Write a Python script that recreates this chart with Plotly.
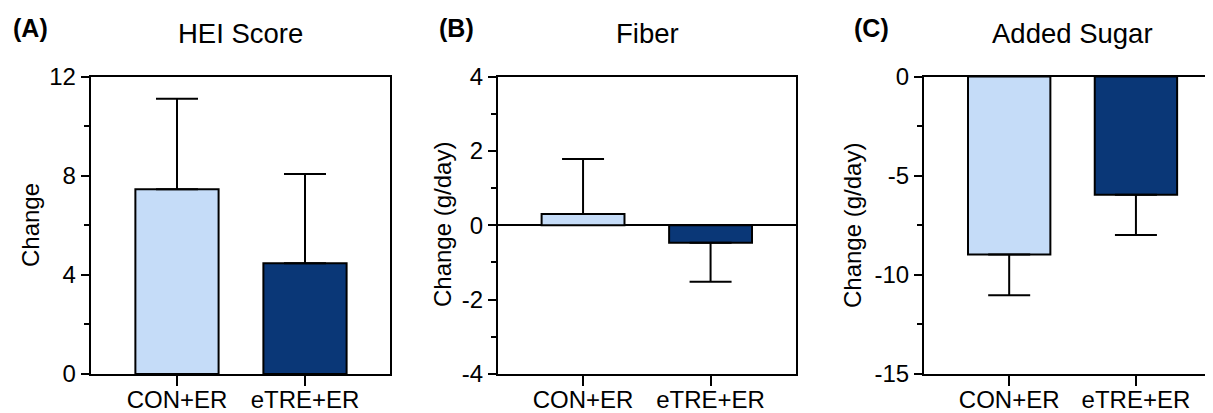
import plotly.graph_objects as go

# page has an 8px body margin; the figure sits at (8, 8) in the window
OFF = 8
W, H = 1213 - OFF, 413 - OFF


def px(x):
    return (x - OFF) / W


def py(y):
    return 1 - (y - OFF) / H


categories = ["CON+ER", "eTRE+ER"]
bar_colors = ["#C5DCF8", "#0A3777"]

# Panel A: HEI Score
hei_values = [7.45, 4.47]
hei_err_plus = [3.65, 3.6]
hei_err_minus = [0, 0]
hei_tickvals = [0, 4, 8, 12]
hei_ticktext = ["0", "4", "8", "12"]

# Panel B: Fiber
fiber_values = [0.30, -0.47]
fiber_err_plus = [1.48, 0]
fiber_err_minus = [0, 1.05]
fiber_tickvals = [-4, -2, 0, 2, 4]
fiber_ticktext = ["-4", "-2", "0", "2", "4"]

# Panel C: Added Sugar
sugar_values = [-8.98, -5.96]
sugar_err_plus = [0, 0]
sugar_err_minus = [2.05, 2.03]
sugar_tickvals = [-15, -10, -5, 0]
sugar_ticktext = ["-15", "-10", "-5", "0"]

panel_letters = ["(A)", "(B)", "(C)"]
panel_titles = ["HEI Score", "Fiber", "Added Sugar"]
y_titles = ["Change", "Change (g/day)", "Change (g/day)"]

FONT = "Arial, Liberation Sans, sans-serif"

fig = go.Figure()

panels = [
    (hei_values, hei_err_plus, hei_err_minus, hei_tickvals, hei_ticktext, [0, 12], 2),
    (fiber_values, fiber_err_plus, fiber_err_minus, fiber_tickvals, fiber_ticktext, [-4, 4], 1),
    (sugar_values, sugar_err_plus, sugar_err_minus, sugar_tickvals, sugar_ticktext, [-15, 0], 2.5),
]

x_domains = [[px(90.7), px(390)], [px(498), px(796)], [px(924), 1.0]]
x_ranges = [[-0.674, 1.664], [-0.667, 1.67], [-0.672, 1.608]]
y_domain = [py(374), py(76.5)]
mirrors_y = [True, True, False]
zerolines = [False, True, False]

for i, (vals, ep, em, tv, tt, yr, minor_dt) in enumerate(panels):
    n = "" if i == 0 else str(i + 1)
    fig.add_trace(go.Bar(
        x=list(range(len(categories))), y=vals,
        marker=dict(color=bar_colors, line=dict(color="black", width=2)),
        width=0.65,
        error_y=dict(type="data", symmetric=False, array=ep, arrayminus=em,
                     color="black", thickness=2, width=21),
        xaxis="x" + n, yaxis="y" + n, showlegend=False,
    ))
    fig.layout["xaxis" + n] = dict(
        domain=x_domains[i], range=x_ranges[i], anchor="y" + n, automargin=False,
        tickvals=list(range(len(categories))), ticktext=categories,
        ticks="outside", ticklen=10, tickwidth=2, tickcolor="black",
        ticklabelstandoff=-7,
        showline=True, linecolor="black", linewidth=2, mirror=True,
        showgrid=False, zeroline=False,
        tickfont=dict(family=FONT, size=24, color="black"),
    )
    fig.layout["yaxis" + n] = dict(
        domain=y_domain, range=yr, anchor="x" + n, automargin=False,
        tickvals=tv, ticktext=tt,
        ticks="outside", ticklen=8, tickwidth=2, tickcolor="black",
        minor=dict(ticks="outside", ticklen=5, tickwidth=2, tickcolor="black", dtick=minor_dt, showgrid=False),
        showline=True, linecolor="black", linewidth=2, mirror=mirrors_y[i],
        showgrid=False, zeroline=zerolines[i], zerolinecolor="black", zerolinewidth=2,
        tickfont=dict(family=FONT, size=24, color="black"),
    )

letter_x = [11, 437, 852]
title_x = [240, 647, 1072]
ytitle_x = [31, 443, 853]
annotations = []
for i in range(3):
    annotations.append(dict(text="<b>" + panel_letters[i] + "</b>", x=px(letter_x[i]), y=py(28.5),
                            xref="paper", yref="paper", xanchor="left", yanchor="middle",
                            showarrow=False, font=dict(family=FONT, size=25, color="black")))
    annotations.append(dict(text=panel_titles[i], x=px(title_x[i]), y=py(33),
                            xref="paper", yref="paper", xanchor="center", yanchor="middle",
                            showarrow=False, font=dict(family=FONT, size=27.5, color="black")))
    annotations.append(dict(text=y_titles[i], x=px(ytitle_x[i]), y=py(225),
                            xref="paper", yref="paper", xanchor="center", yanchor="middle",
                            textangle=-90, showarrow=False,
                            font=dict(family=FONT, size=24, color="black")))

fig.update_layout(
    width=W, height=H,
    margin=dict(l=0, r=0, t=0, b=0, autoexpand=False),
    paper_bgcolor="white", plot_bgcolor="white",
    annotations=annotations,
)

fig.write_html("out.html")
